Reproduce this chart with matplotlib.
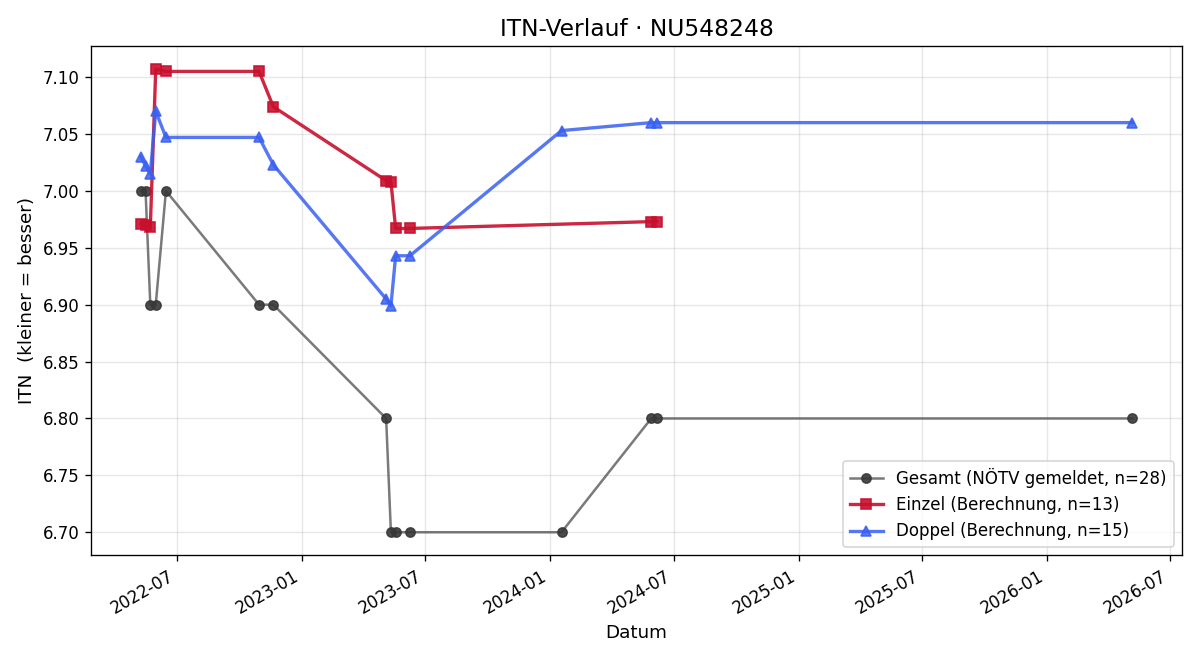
import pandas as pd
import matplotlib
matplotlib.use("Agg")
import matplotlib.pyplot as plt
import matplotlib.dates as mdates
from matplotlib.ticker import FormatStrFormatter

# dates of the matches
dates = pd.to_datetime([
    "2022-05-09", "2022-05-16", "2022-05-23", "2022-05-31", "2022-06-15",
    "2022-10-30", "2022-11-20", "2023-05-05", "2023-05-12", "2023-05-19",
    "2023-06-09", "2024-01-18", "2024-05-29", "2024-06-06", "2026-05-07",
])

gesamt = [7.00, 7.00, 6.90, 6.90, 7.00, 6.90, 6.90, 6.80, 6.70, 6.70,
          6.70, 6.70, 6.80, 6.80, 6.80]

# Einzel has no value on 2024-01-18 and 2026-05-07
einzel_idx = [0, 1, 2, 3, 4, 5, 6, 7, 8, 9, 10, 12, 13]
einzel = [6.971, 6.970, 6.968, 7.107, 7.105, 7.105, 7.074, 7.009, 7.008,
          6.967, 6.967, 6.973, 6.973]

doppel = [7.030, 7.022, 7.015, 7.070, 7.047, 7.047, 7.023, 6.905, 6.899,
          6.943, 6.943, 7.053, 7.060, 7.060, 7.060]

fig, ax = plt.subplots(figsize=(10, 5.5), dpi=120)

ax.plot(dates, gesamt, marker="o", color=(0.3, 0.3, 0.3, 0.75), lw=1.5, ms=5.5,
        mfc=(0.22, 0.22, 0.22, 0.9), mec=(0.22, 0.22, 0.22, 0.9),
        label="Gesamt (NÖTV gemeldet, n=28)")
ax.plot(dates[einzel_idx], einzel, marker="s", color="#C8102E", alpha=0.9, lw=2, ms=6.5,
        label="Einzel (Berechnung, n=13)")
ax.plot(dates, doppel, marker="^", color="#3a60f0", alpha=0.85, lw=2, ms=6.5,
        label="Doppel (Berechnung, n=15)")

ax.set_title("ITN-Verlauf · NU548248", fontsize=14)
ax.set_xlabel("Datum", fontsize=11)
ax.set_ylabel("ITN  (kleiner = besser)", fontsize=11)
ax.yaxis.set_major_formatter(FormatStrFormatter("%.2f"))
ax.xaxis.set_major_locator(mdates.MonthLocator(bymonth=[1, 7]))
ax.xaxis.set_major_formatter(mdates.DateFormatter("%Y-%m"))
ax.grid(True, alpha=0.3)
ax.legend(loc="lower right", fontsize=10)
fig.autofmt_xdate()
fig.tight_layout()
fig.savefig("out.png", dpi=120)
